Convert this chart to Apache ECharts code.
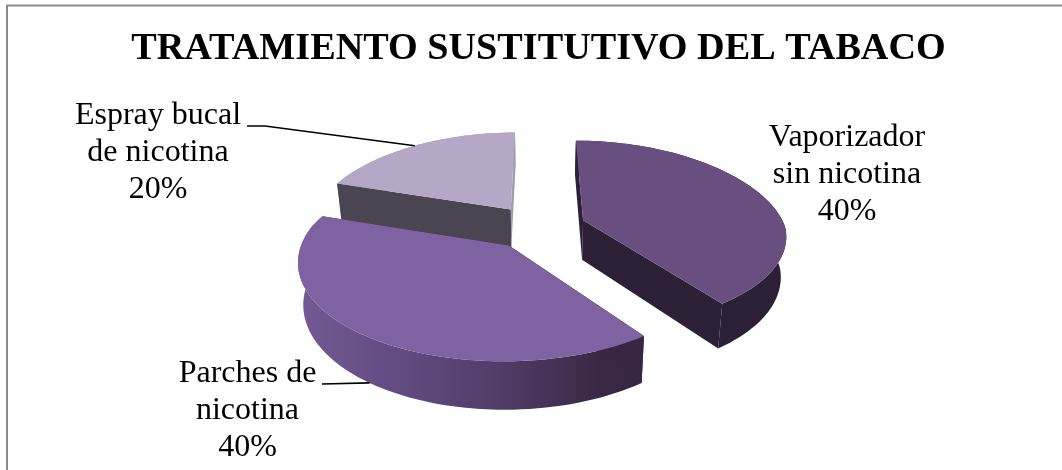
<!DOCTYPE html>
<html>
<head>
<meta charset="utf-8">
<style>html,body{margin:0;padding:0;background:#fff}#chart{width:1062px;height:470px}</style>
<script src="https://cdn.jsdelivr.net/npm/echarts@6/dist/echarts.min.js"></script>
</head>
<body>
<div id="chart"></div>
<script>
// Chart content
const chartTitle = 'TRATAMIENTO SUSTITUTIVO DEL TABACO';
const categories = ['Vaporizador\nsin nicotina', 'Parches de\nnicotina', 'Espray bucal\nde nicotina'];
const shares = [40, 40, 20];

// Appearance of each slice, in the same order as the categories
const topColors = ['#684f80', '#7f62a1', '#b5a8c6'];
const wallColors = ['#2b2036', '#372742', '#4a4550'];
const farWallColors = ['#2b2036', '#372742', '#a39bb1'];
const paintOrder = [1, 2, 0];
const labelAnchors = [[847, 175], [247.5, 411], [158, 153]];
const leaderStarts = [null, [[322, 384]], [[247, 126], [265, 126]]];

// Perspective view of the pie plate: radius 1, slices pulled out along their bisector
const view = { cx: 538, cy: 227, scaleX: 202, scaleY: 93, perspective: 0.146, backNarrowing: 0.193, depth: 40, taper: 0.022 };
const explode = 0.238;
const total = shares.reduce((a, b) => a + b, 0);

function project(X, Y, Z) {
  const p = 1 / (1 - view.perspective * Y);
  const px = Y < 0 ? 1 / (1 - view.backNarrowing * Y) : p;
  const x = view.cx + view.scaleX * X * px;
  return [view.cx + (x - view.cx) * (1 - view.taper * Z), view.cy + view.scaleY * Y * p + view.depth * p * Z];
}

function renderSlice(params, api) {
  const i = params.dataIndex;
  const before = shares.slice(0, i).reduce((a, b) => a + b, 0);
  const start = -90 + before / total * 360;
  const sweep = api.value(0) / total * 360;
  const mid = (start + sweep / 2) * Math.PI / 180;
  const ox = explode * Math.cos(mid);
  const oy = explode * Math.sin(mid);
  const rim = (deg, z) => {
    const a = deg * Math.PI / 180;
    return project(ox + Math.cos(a), oy + Math.sin(a), z);
  };
  const arc = (z) => {
    const pts = [];
    const n = Math.ceil(sweep / 2);
    for (let k = 0; k <= n; k++) pts.push(rim(start + sweep * k / n, z));
    return pts;
  };
  const apex = (z) => project(ox, oy, z);
  const base = paintOrder[i] * 10;
  const children = [];

  // Walls, then the outer side, then the top face
  children.push({ type: 'polygon', z2: base, shape: { points: [apex(0), rim(start + sweep, 0), rim(start + sweep, 1), apex(1)] }, style: { fill: farWallColors[i] } });
  const sideFill = i === 1
    ? { type: 'linear', x: 0, y: 0, x2: 1, y2: 0, colorStops: [
        { offset: 0, color: '#735a95' }, { offset: 0.25, color: '#644d84' },
        { offset: 0.6, color: '#4f3c66' }, { offset: 0.88, color: '#382843' }, { offset: 1, color: '#362741' }] }
    : farWallColors[i];
  children.push({ type: 'polygon', z2: base + 1, shape: { points: arc(0).concat(arc(1).reverse()) }, style: { fill: sideFill } });
  children.push({ type: 'polygon', z2: base + 2, shape: { points: [apex(0), rim(start, 0), rim(start, 1), apex(1)] }, style: { fill: wallColors[i] } });
  children.push({ type: 'polygon', z2: base + 3, shape: { points: [apex(0)].concat(arc(0)) }, style: { fill: topColors[i] } });

  // Leader from the label to the middle of the slice's rim
  if (leaderStarts[i]) {
    const z = i === 1 ? 1 : 0;
    const midDeg = start + sweep / 2;
    children.push({ type: 'polyline', z2: 60, shape: { points: leaderStarts[i].concat([rim(midDeg, z)]) }, style: { fill: null, stroke: '#000', lineWidth: 1.7 } });
  }

  // Category and its share
  children.push({
    type: 'text', z2: 70, x: labelAnchors[i][0], y: labelAnchors[i][1],
    style: {
      text: categories[i] + '\n' + Math.round(api.value(0) / total * 100) + '%',
      fill: '#000', align: 'center', verticalAlign: 'middle', textAlign: 'center', textVerticalAlign: 'middle',
      font: '32px "Liberation Serif"', lineHeight: 37
    }
  });
  return { type: 'group', children };
}

const chart = echarts.init(document.getElementById('chart'), null, { renderer: 'canvas' });
chart.setOption({
  animation: false,
  backgroundColor: '#fff',
  title: {
    text: chartTitle, left: 538.5, top: 30, padding: 0, textAlign: 'center',
    textStyle: { fontFamily: 'Liberation Serif', fontWeight: 'bold', fontSize: 38.2, color: '#000' }
  },
  graphic: [{
    type: 'polyline', silent: true,
    shape: { points: [[7, 470], [7, 5.5], [1062, 5.5]] },
    style: { fill: null, stroke: '#8a8a8a', lineWidth: 2 }
  }],
  series: [{
    type: 'custom', coordinateSystem: 'none', silent: true, clip: false,
    renderItem: renderSlice,
    data: shares.map((v, i) => ({ name: categories[i], value: [v] }))
  }]
});
</script>
</body>
</html>
